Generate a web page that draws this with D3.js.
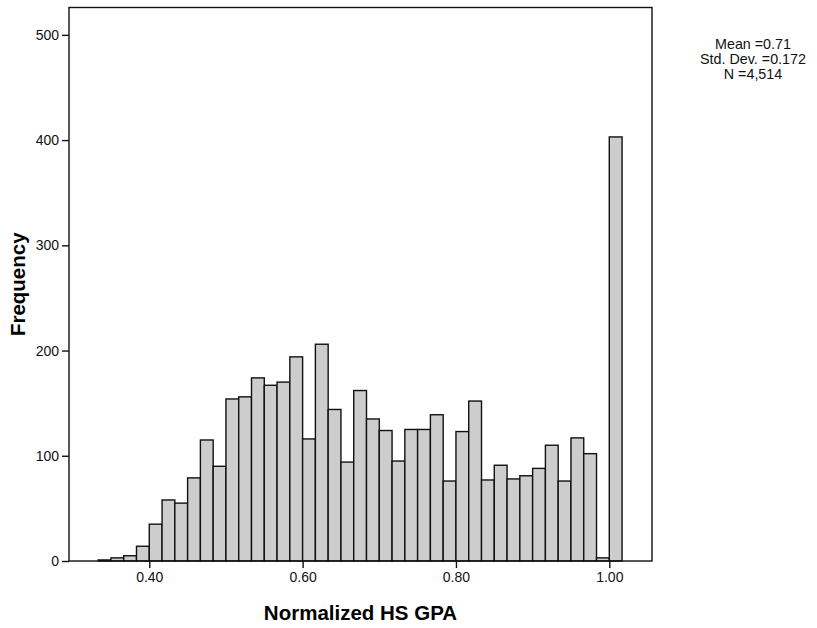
<!DOCTYPE html>
<html>
<head>
<meta charset="utf-8">
<script src="https://cdn.jsdelivr.net/npm/d3@7"></script>
<style>
  body { margin: 0; background: #fff; }
  svg { display: block; font-family: Arial, "Liberation Sans", sans-serif; }
</style>
</head>
<body>
<div id="chart"></div>
<script>
// Histogram of normalized HS GPA, bins of width 1/60 starting at 0.3333
const binStart = 0.4 - 4 / 60;
const binWidth = 1 / 60;
const counts = [
  1, 3, 5, 14, 35, 58, 55, 79, 115, 90,
  154, 156, 174, 167, 170, 194, 116, 206, 144, 94,
  162, 135, 124, 95, 125, 125, 139, 76, 123, 152,
  77, 91, 78, 81, 88, 110, 76, 117, 102, 3, 403
];
const xTicks = [0.4, 0.6, 0.8, 1.0];
const yTicks = [0, 100, 200, 300, 400, 500];
const statsLines = ['Mean =0.71', 'Std. Dev. =0.172', 'N =4,514'];

const width = 817, height = 628;
const margin = { left: 69, right: 165, top: 7.5, bottom: 67 };

const svg = d3.select('#chart').append('svg')
  .attr('width', width)
  .attr('height', height);

const x = d3.scaleLinear()
  .domain([0.2953, 1.0557])
  .range([margin.left, width - margin.right]);
const y = d3.scaleLinear()
  .domain([0, 526])
  .range([height - margin.bottom, margin.top]);

const bins = counts.map((c, i) => ({
  x0: binStart + i * binWidth,
  x1: binStart + (i + 1) * binWidth,
  n: c
}));

// bars
svg.append('g')
  .selectAll('rect')
  .data(bins)
  .enter().append('rect')
  .attr('x', d => x(d.x0))
  .attr('y', d => y(d.n))
  .attr('width', d => x(d.x1) - x(d.x0))
  .attr('height', d => y(0) - y(d.n))
  .attr('fill', '#cdcdcd')
  .attr('stroke', '#111')
  .attr('stroke-width', 1.4);

// frame
svg.append('rect')
  .attr('x', x.range()[0])
  .attr('y', y.range()[1])
  .attr('width', x.range()[1] - x.range()[0])
  .attr('height', y.range()[0] - y.range()[1])
  .attr('fill', 'none')
  .attr('stroke', '#111')
  .attr('stroke-width', 1.4);

// axes
const xAxis = svg.append('g')
  .attr('transform', `translate(0,${y(0)})`)
  .call(d3.axisBottom(x).tickValues(xTicks).tickFormat(d3.format('.2f')).tickSize(7).tickPadding(4));
const yAxis = svg.append('g')
  .attr('transform', `translate(${x.range()[0]},0)`)
  .call(d3.axisLeft(y).tickValues(yTicks).tickFormat(d3.format('d')).tickSize(7).tickPadding(3));

[xAxis, yAxis].forEach(g => {
  g.select('.domain').remove();
  g.selectAll('line').attr('stroke', '#111').attr('stroke-width', 1.4);
  g.selectAll('text')
    .attr('font-size', '14px')
    .attr('fill', '#111')
    .attr('font-family', 'Arial, "Liberation Sans", sans-serif');
});

// axis titles
svg.append('text')
  .attr('x', (x.range()[0] + x.range()[1]) / 2)
  .attr('y', 620)
  .attr('text-anchor', 'middle')
  .attr('font-size', '20.5px')
  .attr('font-weight', 'bold')
  .text('Normalized HS GPA');

svg.append('text')
  .attr('transform', `translate(25,${(y.range()[0] + y.range()[1]) / 2}) rotate(-90)`)
  .attr('text-anchor', 'middle')
  .attr('font-size', '20.5px')
  .attr('font-weight', 'bold')
  .text('Frequency');

// stats box
svg.append('g')
  .selectAll('text')
  .data(statsLines)
  .enter().append('text')
  .attr('x', 753)
  .attr('y', (d, i) => 49 + i * 15)
  .attr('text-anchor', 'middle')
  .attr('font-size', '14.3px')
  .attr('fill', '#111')
  .text(d => d);
</script>
</body>
</html>
